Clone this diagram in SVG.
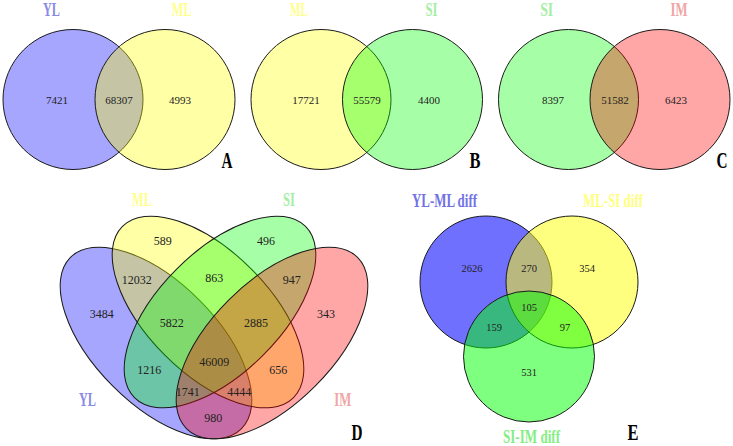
<svg xmlns="http://www.w3.org/2000/svg" width="733" height="446" viewBox="0 0 733 446">
<style>
.o{stroke:#1a1a1a;stroke-width:1}
.b{fill:#0000ff;fill-opacity:.35}
.y{fill:#ffff00;fill-opacity:.35}
.g{fill:#00ff00;fill-opacity:.35}
.r{fill:#ff0000;fill-opacity:.35}
.bE{fill:#0000ff;fill-opacity:.56}
.yE{fill:#ffff00;fill-opacity:.5}
.gE{fill:#00ff00;fill-opacity:.5}
.n{font-family:"Liberation Serif",serif;font-size:11px;fill:#222;text-anchor:middle}
.nd{font-size:12px}
.ne{font-size:10.5px}
.l{font-family:"Liberation Serif",serif;font-weight:bold;font-size:19px;text-anchor:middle}
.p{font-family:"Liberation Serif",serif;font-weight:bold;font-size:24px;fill:#000;text-anchor:middle}
.cb{fill:#8a8ae6}.cy{fill:#ffff90}.cg{fill:#a6eea6}.cr{fill:#f0a6a6}
.cbE{fill:#7272e6}.cyE{fill:#ffff80}.cgE{fill:#84ee84}
</style>

<!-- Panel A -->
<g id="A-YL"><circle class="b o" cx="73" cy="99.5" r="70"/><text class="l cb" x="51.5" y="16" textLength="17" lengthAdjust="spacingAndGlyphs">YL</text></g>
<g id="A-ML"><circle class="y o" cx="165" cy="99.5" r="70"/><text class="l cy" x="181.7" y="16" textLength="20" lengthAdjust="spacingAndGlyphs">ML</text></g>
<g id="A-labels">
<text class="n" x="57" y="104">7421</text>
<text class="n" x="119" y="104">68307</text>
<text class="n" x="180" y="104">4993</text>
<text class="p" x="227" y="168" textLength="11" lengthAdjust="spacingAndGlyphs">A</text>
</g>

<!-- Panel B -->
<g id="B-ML"><circle class="y o" cx="321" cy="99.5" r="70"/><text class="l cy" x="299" y="16" textLength="18" lengthAdjust="spacingAndGlyphs">ML</text></g>
<g id="B-SI"><circle class="g o" cx="412.5" cy="99.5" r="70"/><text class="l cg" x="431.5" y="16" textLength="12" lengthAdjust="spacingAndGlyphs">SI</text></g>
<g id="B-labels">
<text class="n" x="306" y="104">17721</text>
<text class="n" x="367" y="104">55579</text>
<text class="n" x="429" y="104">4400</text>
<text class="p" x="475" y="168" textLength="11" lengthAdjust="spacingAndGlyphs">B</text>
</g>

<!-- Panel C -->
<g id="C-SI"><circle class="g o" cx="568.5" cy="99.5" r="70"/><text class="l cg" x="546.7" y="16" textLength="13" lengthAdjust="spacingAndGlyphs">SI</text></g>
<g id="C-IM"><circle class="r o" cx="660" cy="99.5" r="70"/><text class="l cr" x="679" y="16" textLength="17" lengthAdjust="spacingAndGlyphs">IM</text></g>
<g id="C-labels">
<text class="n" x="553" y="104">8397</text>
<text class="n" x="615" y="104">51582</text>
<text class="n" x="676" y="104">6423</text>
<text class="p" x="722" y="168" textLength="11" lengthAdjust="spacingAndGlyphs">C</text>
</g>

<!-- Panel D -->
<g id="D-YL"><ellipse class="b o" cx="156" cy="343" rx="121" ry="61" transform="rotate(45 156 343)"/><text class="l cb" x="87.5" y="406" textLength="17" lengthAdjust="spacingAndGlyphs">YL</text></g>
<g id="D-ML"><ellipse class="y o" cx="208" cy="312" rx="121" ry="61" transform="rotate(45 208 312)"/><text class="l cy" x="142" y="206" textLength="20" lengthAdjust="spacingAndGlyphs">ML</text></g>
<g id="D-SI"><ellipse class="g o" cx="220" cy="312" rx="121" ry="61" transform="rotate(-45 220 312)"/><text class="l cg" x="289" y="206" textLength="12" lengthAdjust="spacingAndGlyphs">SI</text></g>
<g id="D-IM"><ellipse class="r o" cx="272" cy="343" rx="121" ry="61" transform="rotate(-45 272 343)"/><text class="l cr" x="342.7" y="406" textLength="17" lengthAdjust="spacingAndGlyphs">IM</text></g>
<g id="D-labels">
<text class="n nd" x="162.7" y="245">589</text>
<text class="n nd" x="266" y="245">496</text>
<text class="n nd" x="136.7" y="283.5">12032</text>
<text class="n nd" x="214.3" y="281.5">863</text>
<text class="n nd" x="291.7" y="283.5">947</text>
<text class="n nd" x="101.7" y="318">3484</text>
<text class="n nd" x="171.7" y="327">5822</text>
<text class="n nd" x="256" y="327">2885</text>
<text class="n nd" x="326" y="318">343</text>
<text class="n nd" x="214.3" y="365.5">46009</text>
<text class="n nd" x="149.3" y="374">1216</text>
<text class="n nd" x="278.3" y="374">656</text>
<text class="n nd" x="187.7" y="396">1741</text>
<text class="n nd" x="239.3" y="396">4444</text>
<text class="n nd" x="213.3" y="421.5">980</text>
<text class="p" x="357" y="440" textLength="11" lengthAdjust="spacingAndGlyphs">D</text>
</g>

<!-- Panel E -->
<g id="E-YLML"><circle class="bE o" cx="486" cy="282" r="66"/><text class="l cbE" x="444.5" y="207" textLength="65" lengthAdjust="spacingAndGlyphs">YL-ML diff</text></g>
<g id="E-MLSI"><circle class="yE o" cx="572" cy="282" r="66"/><text class="l cyE" x="613" y="207" textLength="60" lengthAdjust="spacingAndGlyphs">ML-SI diff</text></g>
<g id="E-SIIM"><circle class="gE o" cx="529" cy="356.5" r="65.5"/><text class="l cgE" x="531.5" y="443" textLength="57" lengthAdjust="spacingAndGlyphs">SI-IM diff</text></g>
<g id="E-labels">
<text class="n ne" x="472" y="272">2626</text>
<text class="n ne" x="529" y="272">270</text>
<text class="n ne" x="587" y="272">354</text>
<text class="n ne" x="529" y="311">105</text>
<text class="n ne" x="494" y="331">159</text>
<text class="n ne" x="565" y="331">97</text>
<text class="n ne" x="529" y="376">531</text>
<text class="p" x="633" y="440" textLength="11" lengthAdjust="spacingAndGlyphs">E</text>
</g>
</svg>
